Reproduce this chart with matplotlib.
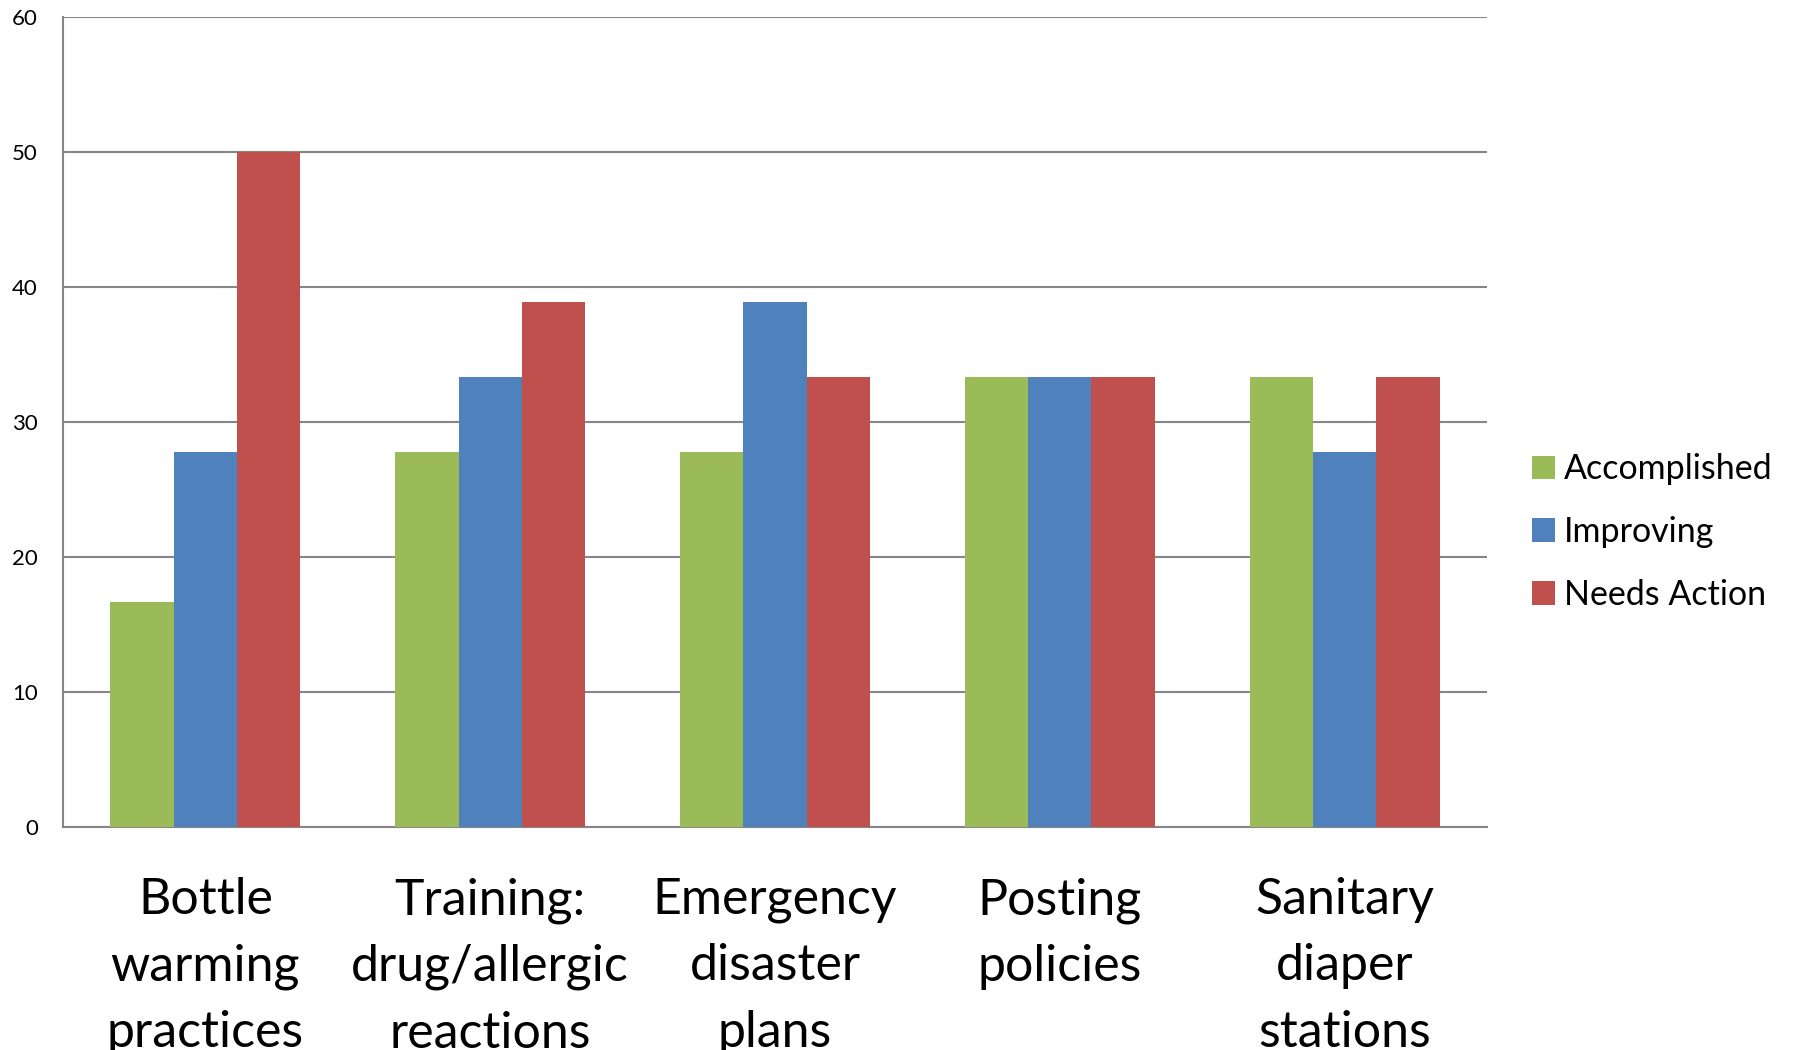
import matplotlib
matplotlib.use("Agg")
import matplotlib.pyplot as plt
import numpy as np
from matplotlib.patches import Patch

categories = ["Bottle\nwarming\npractices", "Training:\ndrug/allergic\nreactions",
              "Emergency\ndisaster\nplans", "Posting\npolicies", "Sanitary\ndiaper\nstations"]
series_names = ["Accomplished", "Improving", "Needs Action"]
accomplished = [16.67, 27.78, 27.78, 33.33, 33.33]
improving = [27.78, 33.33, 38.89, 33.33, 27.78]
needs_action = [50.0, 38.89, 33.33, 33.33, 33.33]
colors = ["#9BBB59", "#4F81BD", "#C0504D"]
yticks = [0, 10, 20, 30, 40, 50, 60]

plt.rcParams['font.family'] = ['Lato', 'DejaVu Sans']

fig = plt.figure(figsize=(17.94, 10.5), dpi=100)
ax = fig.add_axes([63/1794, 1 - 827/1050, (1487-63)/1794, (827-17)/1050])

x = np.arange(len(categories))
w = 1/4.5
for i, (vals, c) in enumerate(zip([accomplished, improving, needs_action], colors)):
    ax.bar(x + (i-1)*w, vals, width=w, color=c, zorder=3, linewidth=0)

ax.set_xlim(-0.5, len(categories)-0.5)
ax.set_ylim(0, 60)
ax.set_yticks(yticks)
ax.set_yticklabels([str(t) for t in yticks], fontsize=16)
ax.yaxis.grid(True, color="#868686", linewidth=1.5, zorder=0)
ax.set_xticks(x)
ax.set_xticklabels(categories, fontsize=36, linespacing=1.55)
ax.tick_params(axis='x', length=0, pad=36)
ax.tick_params(axis='y', length=0, pad=18)
for s in ['top', 'right']:
    ax.spines[s].set_visible(False)
ax.spines['left'].set_color("#868686")
ax.spines['left'].set_linewidth(1.5)
ax.spines['bottom'].set_color("#868686")
ax.spines['bottom'].set_linewidth(1.5)

handles = [Patch(facecolor=c, label=n) for c, n in zip(colors, series_names)]
fig.legend(handles=handles, loc='center left', bbox_to_anchor=(1518/1794, 1 - 532/1050),
           frameon=False, fontsize=24.5, handlelength=0.7, handleheight=0.7,
           handletextpad=0.25, labelspacing=0.9, borderaxespad=0)

fig.savefig("out.png", dpi=100)
